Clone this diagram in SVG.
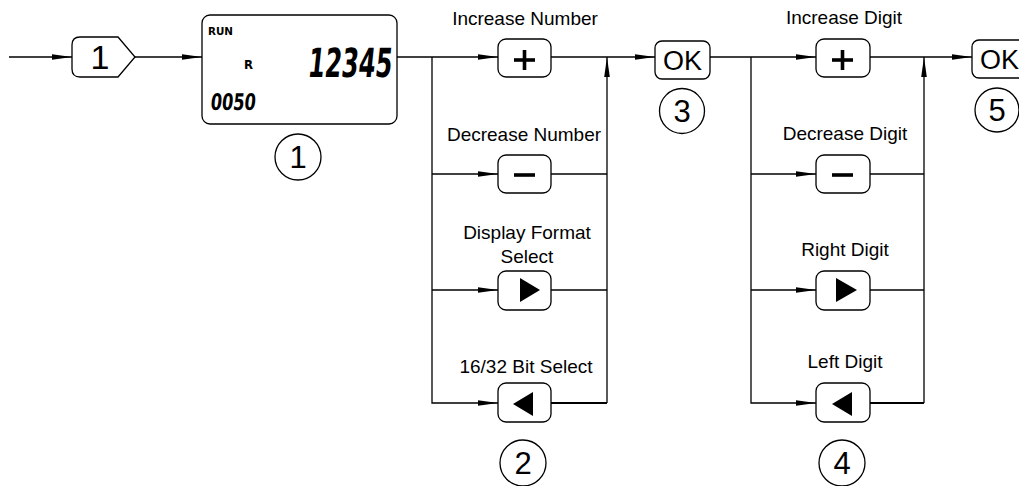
<svg xmlns="http://www.w3.org/2000/svg" width="1019" height="486" viewBox="0 0 1019 486">
<style>
.ln{fill:none;stroke:#000;stroke-width:1.3}
.bx{fill:#fff;stroke:#000;stroke-width:1.3}
.lbl{font-family:"Liberation Sans",Arial,sans-serif;font-size:19px;fill:#000;text-anchor:middle}
.num{font-family:"Liberation Sans",Arial,sans-serif;font-size:31px;fill:#000;text-anchor:middle}
.ok{font-family:"Liberation Sans",Arial,sans-serif;font-size:27px;fill:#000;text-anchor:middle}
.lcd{font-family:"DejaVu Sans Condensed","DejaVu Sans",sans-serif;font-weight:bold;fill:#000}
.sym{stroke:#000;stroke-width:3.6;fill:none}
</style>
<defs>
<marker id="arr" markerUnits="userSpaceOnUse" markerWidth="22" markerHeight="8" refX="20" refY="3.5" orient="auto">
<path d="M0,0.7 L20,3.5 L0,6.3 Z" fill="#000"/>
</marker>
</defs>
<g id="connectors">
<line class="ln" x1="9" y1="57" x2="72" y2="57" marker-end="url(#arr)"/>
<line class="ln" x1="135" y1="57" x2="202" y2="57" marker-end="url(#arr)"/>
<line class="ln" x1="397" y1="57" x2="498" y2="57" marker-end="url(#arr)"/>
<polyline class="ln" points="432,57 432,403 498,403" marker-end="url(#arr)"/>
<line class="ln" x1="432" y1="174" x2="498" y2="174" marker-end="url(#arr)"/>
<line class="ln" x1="432" y1="290" x2="498" y2="290" marker-end="url(#arr)"/>
<line class="ln" x1="551" y1="57" x2="655" y2="57" marker-end="url(#arr)"/>
<line class="ln" x1="551" y1="174" x2="607" y2="174"/>
<line class="ln" x1="551" y1="290" x2="607" y2="290"/>
<line class="ln" x1="551" y1="403" x2="607" y2="403" style="stroke-width:2"/>
<line class="ln" x1="607" y1="403" x2="607" y2="57" marker-end="url(#arr)"/>
<line class="ln" x1="710" y1="57" x2="816" y2="57" marker-end="url(#arr)"/>
<polyline class="ln" points="751,57 751,403 816,403" marker-end="url(#arr)"/>
<line class="ln" x1="751" y1="174" x2="816" y2="174" marker-end="url(#arr)"/>
<line class="ln" x1="751" y1="290" x2="816" y2="290" marker-end="url(#arr)"/>
<line class="ln" x1="870" y1="57" x2="972" y2="57" marker-end="url(#arr)"/>
<line class="ln" x1="870" y1="174" x2="924" y2="174"/>
<line class="ln" x1="870" y1="290" x2="924" y2="290"/>
<line class="ln" x1="870" y1="403" x2="924" y2="403" style="stroke-width:2"/>
<line class="ln" x1="924" y1="403" x2="924" y2="57" marker-end="url(#arr)"/>
</g>
<g id="start">
<path class="bx" d="M80,37 H118 L135,57 L118,77 H80 Q72,77 72,69 V45 Q72,37 80,37 Z"/>
<text x="100" y="69" class="num" style="font-size:34px">1</text>
</g>
<g id="lcd">
<rect class="bx" x="202" y="15" width="195" height="109" rx="8"/>
<text class="lcd" x="208" y="35" font-size="11" textLength="25" lengthAdjust="spacingAndGlyphs">RUN</text>
<text class="lcd" x="244" y="69" font-size="13">R</text>
<text class="lcd" x="0" y="0" font-size="40" textLength="84" lengthAdjust="spacingAndGlyphs" transform="translate(307,77) skewX(-6)">12345</text>
<text class="lcd" x="0" y="0" font-size="23" textLength="45" lengthAdjust="spacingAndGlyphs" transform="translate(210,110) skewX(-6)">0050</text>
</g>
<g id="step1">
<circle class="bx" cx="298" cy="157" r="23"/>
<text x="298" y="168" class="num">1</text>
</g>
<g id="inc-number">
<text x="525" y="25" class="lbl">Increase Number</text>
<rect class="bx" x="498" y="39" width="53" height="38" rx="8"/>
<line class="sym" x1="514" y1="60" x2="535" y2="60"/>
<line class="sym" x1="524.5" y1="50" x2="524.5" y2="70"/>
</g>
<g id="dec-number">
<text x="524" y="141" class="lbl">Decrease Number</text>
<rect class="bx" x="498" y="155" width="53" height="38" rx="8"/>
<line class="sym" x1="514" y1="175" x2="535" y2="175"/>
</g>
<g id="display-format">
<text x="527" y="239" class="lbl">Display Format</text>
<text x="527" y="263" class="lbl">Select</text>
<rect class="bx" x="498" y="271" width="53" height="39" rx="8"/>
<path d="M520,278 L540,290 L520,302 Z" fill="#000"/>
</g>
<g id="bit-select">
<text x="526" y="373" class="lbl">16/32 Bit Select</text>
<rect class="bx" x="498" y="383" width="53" height="39" rx="8"/>
<path d="M533,392 L513,404 L533,416 Z" fill="#000"/>
</g>
<g id="step2">
<circle class="bx" cx="523" cy="463" r="23"/>
<text x="523" y="474" class="num">2</text>
</g>
<g id="ok1">
<rect class="bx" x="655" y="41" width="55" height="38" rx="7"/>
<text x="682.5" y="70" class="ok">OK</text>
</g>
<g id="step3">
<circle class="bx" cx="682" cy="111" r="22.5"/>
<text x="682" y="122" class="num">3</text>
</g>
<g id="inc-digit">
<text x="844" y="24" class="lbl">Increase Digit</text>
<rect class="bx" x="816" y="39" width="54" height="38" rx="8"/>
<line class="sym" x1="832" y1="60" x2="853" y2="60"/>
<line class="sym" x1="842.5" y1="50" x2="842.5" y2="70"/>
</g>
<g id="dec-digit">
<text x="845" y="140" class="lbl">Decrease Digit</text>
<rect class="bx" x="816" y="155" width="54" height="38" rx="8"/>
<line class="sym" x1="832" y1="175" x2="853" y2="175"/>
</g>
<g id="right-digit">
<text x="845" y="256" class="lbl">Right Digit</text>
<rect class="bx" x="816" y="271" width="54" height="39" rx="8"/>
<path d="M836,278 L857,290 L836,302 Z" fill="#000"/>
</g>
<g id="left-digit">
<text x="845" y="368" class="lbl">Left Digit</text>
<rect class="bx" x="816" y="383" width="54" height="39" rx="8"/>
<path d="M852,392 L832,404 L852,416 Z" fill="#000"/>
</g>
<g id="step4">
<circle class="bx" cx="842" cy="463" r="23"/>
<text x="842" y="474" class="num">4</text>
</g>
<g id="ok2">
<rect class="bx" x="972" y="40" width="55" height="38" rx="7"/>
<text x="999.5" y="69" class="ok">OK</text>
</g>
<g id="step5">
<circle class="bx" cx="997" cy="110" r="22"/>
<text x="997" y="121" class="num">5</text>
</g>
</svg>
